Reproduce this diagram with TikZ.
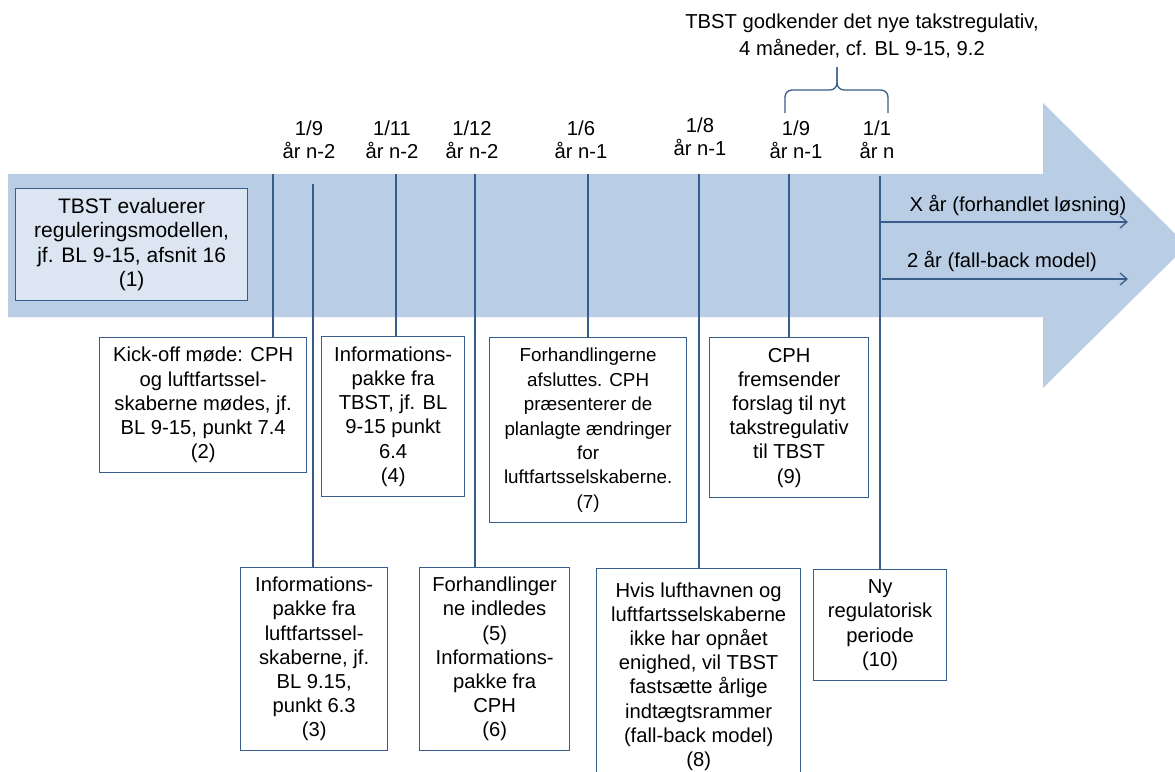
\documentclass[tikz,border=0pt]{standalone}
\usepackage{fontspec}
\setmainfont{Liberation Sans}
\usetikzlibrary{arrows.meta}
\definecolor{bandblue}{HTML}{B9CDE5}
\definecolor{lineblue}{HTML}{385D8A}
\definecolor{paleblue}{HTML}{DCE6F2}

\begin{document}
\begin{tikzpicture}[x=1pt,y=-1pt,
    every node/.style={font=\fontsize{20.2}{24.2}\selectfont, align=center, inner sep=0pt},
    stepbox/.style={draw=lineblue, line width=1.3pt, fill=white, anchor=north west},
    tick/.style={lineblue, line width=1.3pt},
    period/.style={tick, -{Straight Barb[length=7pt,width=12pt]}}]
  \clip (0,0) rectangle (1175,771);
  \fill[bandblue] (8,174) -- (1043,174) -- (1043,103) -- (1187,245.5)
    -- (1043,388) -- (1043,317) -- (8,317) -- cycle;

  \node[stepbox, fill=paleblue, minimum width=232pt, minimum height=112pt,
    font=\fontsize{21}{24.2}\selectfont] (b1) at (15,188)
    {TBST evaluerer\\reguleringsmodellen,\\jf. BL 9-15, afsnit 16\\(1)};
  \node[stepbox, minimum width=207pt, minimum height=135pt] (b2) at (99,337)
    {Kick-off møde: CPH\\og luftfartssel-\\skaberne mødes, jf.\\BL 9-15, punkt 7.4\\(2)};
  \node[stepbox, minimum width=147pt, minimum height=183pt] (b3) at (240,567)
    {Informations-\\pakke fra\\luftfartssel-\\skaberne, jf.\\BL 9.15,\\punkt 6.3\\(3)};
  \node[stepbox, minimum width=143pt, minimum height=160pt] (b4) at (321,336)
    {Informations-\\pakke fra\\TBST, jf. BL\\9-15 punkt\\6.4\\(4)};
  \node[stepbox, minimum width=150pt, minimum height=183pt] (b5) at (419,567)
    {Forhandlinger\\ne indledes\\(5)\\Informations-\\pakke fra\\CPH\\(6)};
  \node[stepbox, minimum width=197pt, minimum height=185pt,
    font=\fontsize{18.8}{24.4}\selectfont] (b7) at (489,337)
    {Forhandlingerne\\afsluttes. CPH\\præsenterer de\\planlagte ændringer\\for\\luftfartsselskaberne.\\(7)};
  \node[stepbox, minimum width=204pt, minimum height=216pt] (b8) at (596,568)
    {Hvis lufthavnen og\\luftfartsselskaberne\\ikke har opnået\\enighed, vil TBST\\fastsætte årlige\\indtægtsrammer\\(fall-back model)\\(8)};
  \node[stepbox, minimum width=159pt, minimum height=160pt] (b9) at (709,337)
    {CPH\\fremsender\\forslag til nyt\\takstregulativ\\til TBST\\(9)};
  \node[stepbox, minimum width=133pt, minimum height=111pt] (b10) at (813,569)
    {Ny\\regulatorisk\\periode\\(10)};

  \foreach \n/\x/\y/\bx in {2/273/174/b2, 3/313/184/b3, 4/396/174/b4, 5/475/174/b5,
      7/588/174/b7, 8/699/174/b8, 9/789/174/b9, 10/880/176/b10}
    {\coordinate (t\n) at (\x,\y);
     \draw[tick] (t\n) -- (t\n |- \bx.north);}

  \node (d1) at (309,140) {1/9\\[-1pt]år n-2};
  \node (d2) at (392,140) {1/11\\[-1pt]år n-2};
  \node (d3) at (472,140) {1/12\\[-1pt]år n-2};
  \node (d4) at (581,140) {1/6\\[-1pt]år n-1};
  \node (d5) at (700,137) {1/8\\[-1pt]år n-1};
  \node (d6) at (796,140) {1/9\\[-1pt]år n-1};
  \node (d7) at (877,140) {1/1\\[-1pt]år n};

  \node (note) at (862,36) {TBST godkender det nye takstregulativ,\\[2pt]4 måneder, cf. BL 9-15, 9.2};
  \coordinate (bl) at (785,113);
  \coordinate (br) at (888,113);
  \coordinate (bm) at (837,90);
  \coordinate (bt) at (837,67);
  \draw[tick, rounded corners=7pt] (bl) |- (bm) -- (bt);
  \draw[tick, rounded corners=7pt] (br) |- (bm) -- (bt);

  \coordinate (x1) at (880,222);
  \coordinate (x2) at (1128,222);
  \coordinate (f1) at (882,279);
  \coordinate (f2) at (1128,279);
  \draw[period] (x1) -- (x2);
  \draw[period] (f1) -- (f2);
  \node (xl) at (1018,205) {X år (forhandlet løsning)};
  \node (fl) at (1002,261) {2 år (fall-back model)};
\end{tikzpicture}
\end{document}
